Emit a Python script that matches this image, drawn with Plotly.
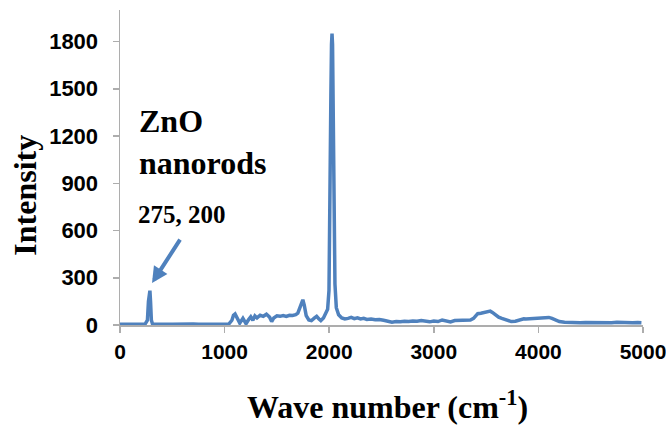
import plotly.graph_objects as go

# Raman spectrum of ZnO nanorods
wave = [0, 50, 100, 150, 200, 240, 262, 272, 280, 286, 292, 300, 310, 325, 360, 400, 450, 500,
        550, 600, 650, 700, 750, 800, 850, 900, 950, 1000, 1040, 1070, 1085, 1100, 1120, 1145,
        1175, 1205, 1230, 1250, 1270, 1290, 1310, 1340, 1370, 1400, 1430, 1450, 1470, 1500,
        1530, 1560, 1590, 1620, 1650, 1680, 1700, 1720, 1735, 1748, 1762, 1780, 1805, 1830,
        1860, 1880, 1900, 1920, 1945, 1965, 1985, 1998, 2008, 2016, 2022, 2027, 2032, 2038,
        2046, 2055, 2068, 2090, 2120, 2150, 2180, 2210, 2240, 2270, 2300, 2330, 2360, 2400,
        2440, 2480, 2520, 2560, 2600, 2640, 2680, 2720, 2760, 2800, 2840, 2880, 2920, 2960,
        3000, 3040, 3080, 3120, 3160, 3200, 3250, 3300, 3350, 3380, 3400, 3420, 3450, 3480,
        3510, 3540, 3560, 3590, 3620, 3650, 3700, 3740, 3780, 3820, 3860, 3880, 3920, 3960,
        4000, 4050, 4100, 4130, 4160, 4200, 4250, 4300, 4350, 4400, 4450, 4500, 4550, 4600,
        4650, 4700, 4750, 4800, 4850, 4900, 4950, 4985]
intensity = [5, 4, 6, 4, 5, 6, 30, 150, 212, 218, 150, 30, 8, 5, 4, 6, 4, 5,
             6, 4, 5, 6, 4, 5, 6, 4, 6, 5, 6, 30, 62, 70, 40, 12,
             42, 8, 35, 52, 30, 58, 45, 62, 55, 68, 50, 22, 45, 58,
             55, 60, 55, 62, 60, 65, 75, 110, 145, 160, 125, 60, 32, 28,
             45, 55, 40, 28, 45, 70, 100, 220, 700, 1450, 1780, 1850, 1780, 1350,
             650, 260, 110, 65, 45, 38, 42, 48, 40, 45, 38, 42, 35, 38,
             33, 35, 30, 25, 18, 22, 20, 24, 22, 26, 24, 28, 22, 20,
             25, 22, 32, 24, 20, 28, 30, 28, 32, 42, 60, 72, 75, 78,
             80, 88, 80, 65, 50, 42, 32, 22, 24, 35, 40, 38, 40, 38,
             40, 42, 48, 42, 35, 22, 18, 15, 17, 14, 16, 15, 17, 15,
             16, 14, 17, 15, 16, 14, 16, 15]

x_ticks = [0, 1000, 2000, 3000, 4000, 5000]
y_ticks = [0, 300, 600, 900, 1200, 1500, 1800]

BLUE = "#4F81BD"
AXIS = "#ADADAD"
SERIF = "Liberation Serif, Times New Roman, serif"
SANS = "Liberation Sans, Arial, sans-serif"

fig = go.Figure()
fig.add_trace(go.Scatter(x=wave, y=intensity, mode="lines",
                         line=dict(color=BLUE, width=3.5), showlegend=False,
                         hoverinfo="skip"))

fig.update_layout(
    width=666, height=425,
    margin=dict(l=120, r=23, t=10, b=100),
    paper_bgcolor="white", plot_bgcolor="white",
    xaxis=dict(range=[0, 5000], tickvals=x_ticks, showgrid=False, zeroline=False,
               showline=True, linecolor=AXIS, linewidth=1.5, automargin=False,
               ticks="outside", ticklen=6, tickcolor=AXIS, tickwidth=1.5,
               tickfont=dict(family=SANS, size=21, color="black", weight="bold"),
               ticklabelstandoff=1, ticklabeloverflow="allow"),
    yaxis=dict(range=[0, 2000], tickvals=y_ticks, showgrid=False, zeroline=False,
               showline=True, linecolor=AXIS, linewidth=1.5, automargin=False,
               ticks="outside", ticklen=6, tickcolor=AXIS, tickwidth=1.5,
               tickfont=dict(family=SANS, size=22, color="black", weight="bold"),
               ticklabelstandoff=10, ticklabeloverflow="allow"),
)

fig.add_annotation(text="<b>Intensity</b>", xref="paper", yref="paper",
                   x=-0.182, y=0.413, xanchor="center", yanchor="middle",
                   textangle=-90, showarrow=False,
                   font=dict(family=SERIF, size=32, color="black"))
fig.add_annotation(text="<b>Wave number (cm<sup>-1</sup>)</b>", xref="paper", yref="paper",
                   x=0.512, y=-0.254, xanchor="center", yanchor="middle", showarrow=False,
                   font=dict(family=SERIF, size=32, color="black"))
fig.add_annotation(text="<b>ZnO<br>nanorods</b>", xref="paper", yref="paper",
                   x=0.0325, y=0.582, xanchor="left", yanchor="middle", align="left",
                   showarrow=False, font=dict(family=SERIF, size=32, color="black"))
fig.add_annotation(text="<b>275, 200</b>", xref="paper", yref="paper",
                   x=0.031, y=0.352, xanchor="left", yanchor="middle", align="left",
                   showarrow=False, font=dict(family=SERIF, size=25, color="black"))
fig.add_annotation(x=306, y=266, xref="x", yref="y", text="", showarrow=True,
                   ax=29, ay=-45, arrowcolor=BLUE, arrowwidth=4, arrowhead=2,
                   arrowsize=0.8, standoff=0)

fig.write_html("out.html",
               config={"displayModeBar": False, "staticPlot": True},
               post_script="document.body.style.margin='0';"
                           "document.body.style.overflow='hidden';")
